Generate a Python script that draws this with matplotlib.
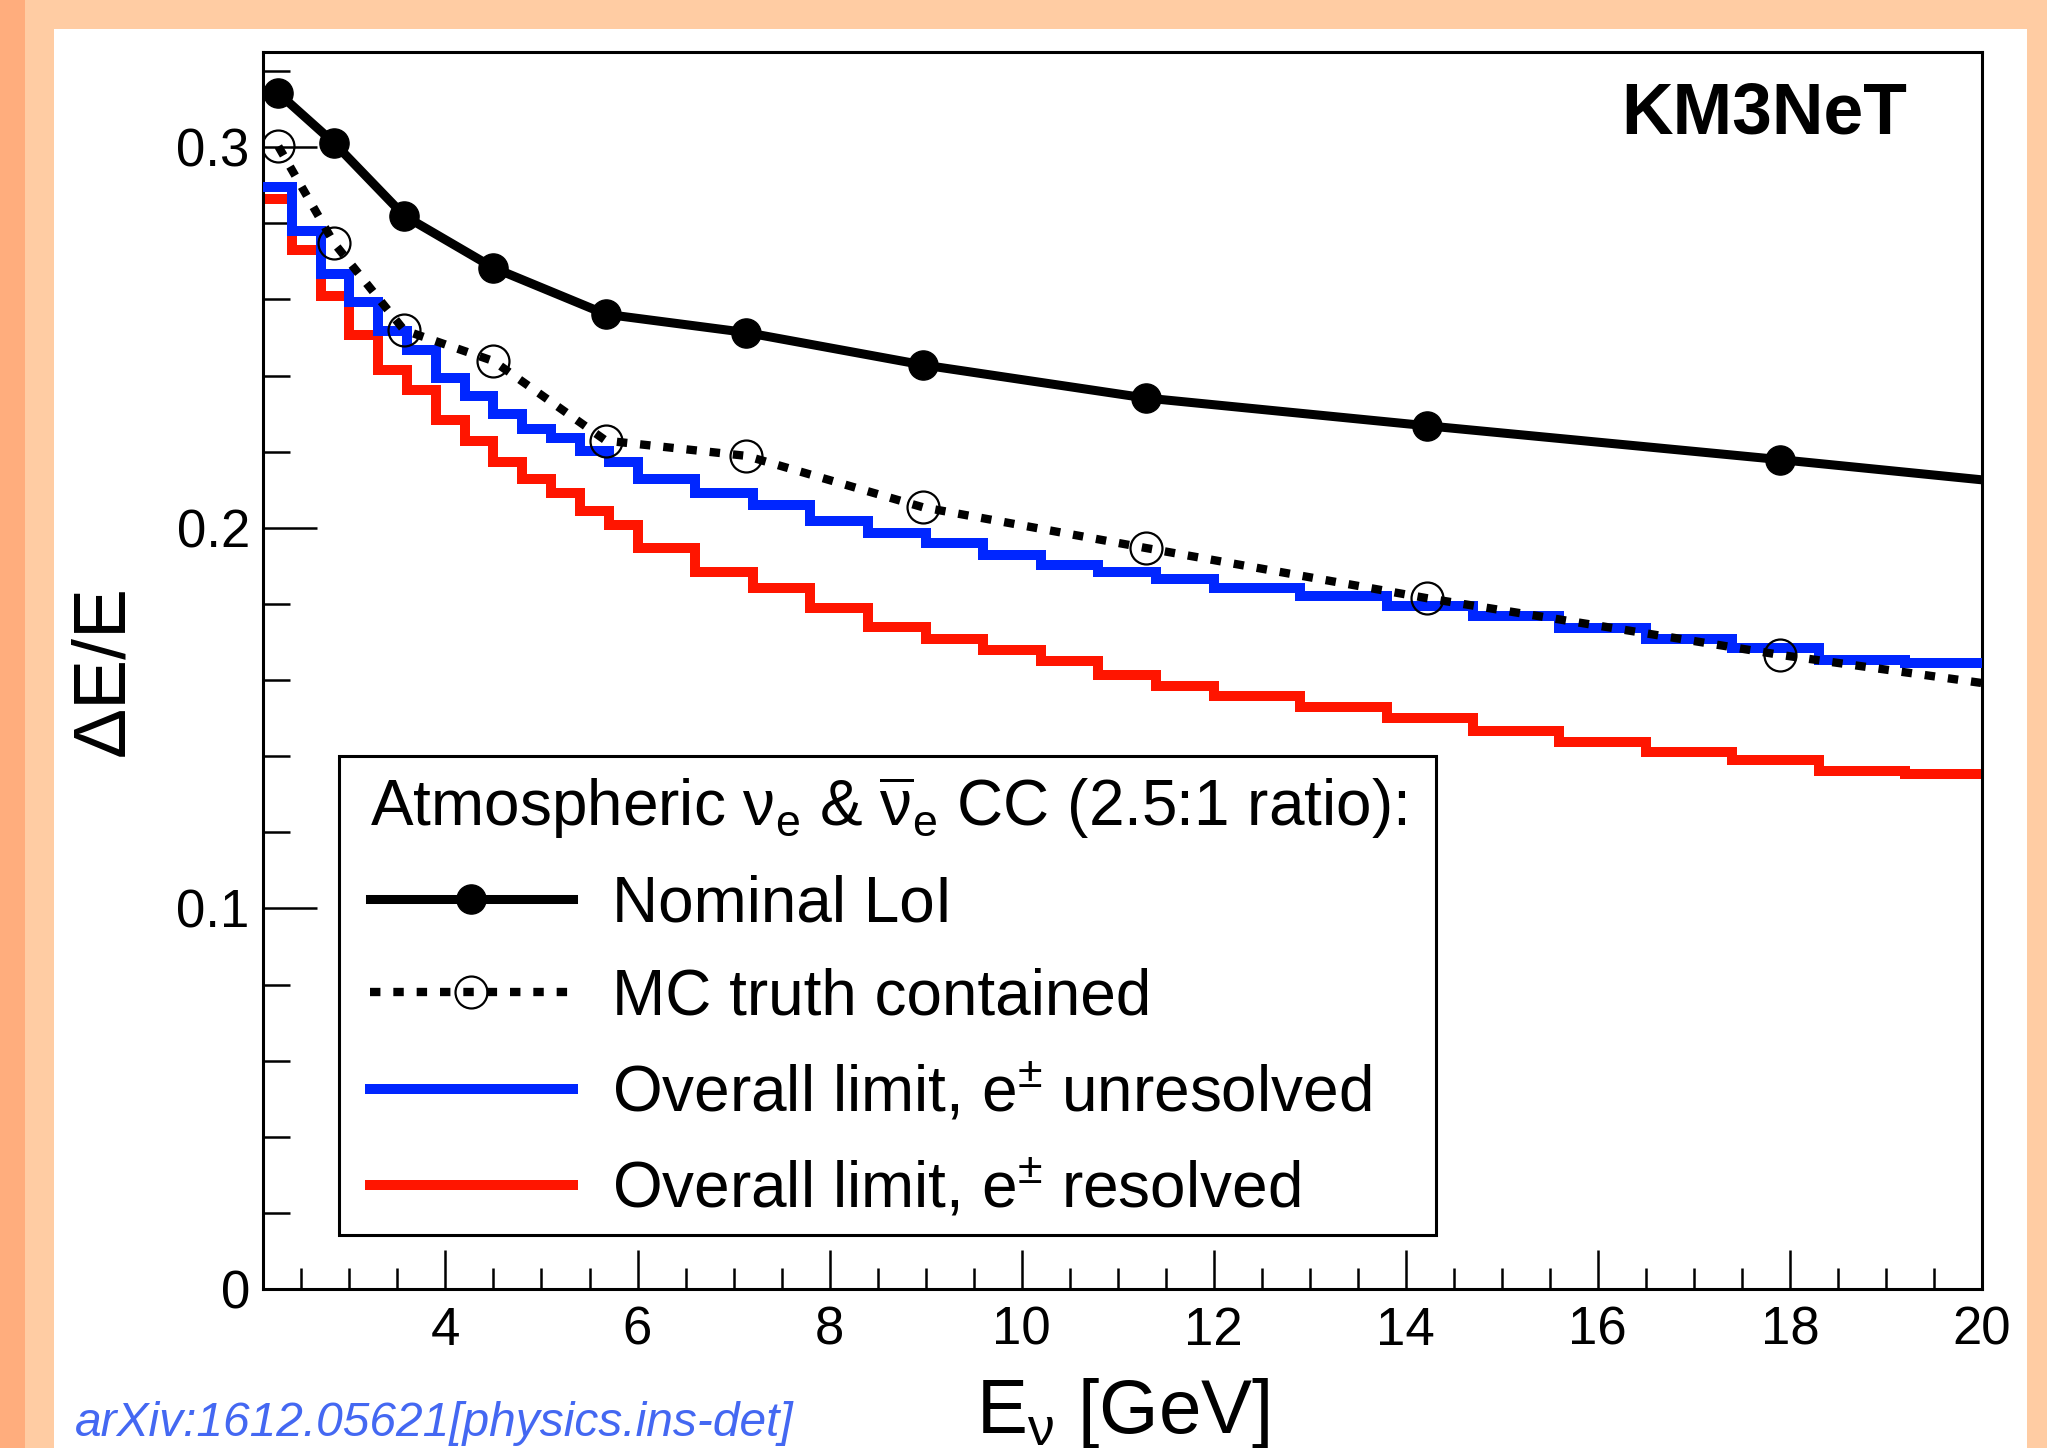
import matplotlib
matplotlib.use("Agg")
import matplotlib.pyplot as plt
from matplotlib.lines import Line2D
from matplotlib.patches import Rectangle
from matplotlib.ticker import MultipleLocator, FixedLocator, FixedFormatter

plt.rcParams['font.family'] = ['Liberation Sans', 'DejaVu Sans']
plt.rcParams['mathtext.fontset'] = 'custom'
plt.rcParams['mathtext.rm'] = 'Liberation Sans'
plt.rcParams['mathtext.it'] = 'Liberation Sans:italic'
plt.rcParams['mathtext.bf'] = 'Liberation Sans:bold'
plt.rcParams['mathtext.sf'] = 'Liberation Sans'

# ---------------- data ----------------
bin_edges = [2.1, 2.4, 2.7, 3.0, 3.3, 3.6, 3.9, 4.2, 4.5, 4.8, 5.1, 5.4, 5.7, 6.0,
             6.6, 7.2, 7.8, 8.4, 9.0, 9.6, 10.2, 10.8, 11.4, 12.0,
             12.9, 13.8, 14.7, 15.6, 16.5, 17.4, 18.3, 19.2, 20.1]
limit_unresolved = [0.2895, 0.2779, 0.2668, 0.2592, 0.2516, 0.2468, 0.2393, 0.2345,
                    0.2299, 0.2259, 0.2236, 0.2201, 0.2173, 0.2128, 0.2091, 0.2060,
                    0.2019, 0.1985, 0.1960, 0.1929, 0.1901, 0.1884, 0.1866, 0.1841,
                    0.1821, 0.1795, 0.1767, 0.1736, 0.1708, 0.1685, 0.1653, 0.1644]
limit_resolved = [0.2864, 0.2729, 0.2608, 0.2507, 0.2415, 0.2363, 0.2282, 0.2227,
                  0.2172, 0.2128, 0.2091, 0.2045, 0.2007, 0.1947, 0.1885, 0.1842,
                  0.1789, 0.1739, 0.1707, 0.1679, 0.1649, 0.1614, 0.1585, 0.1558,
                  0.1530, 0.1500, 0.1467, 0.1436, 0.1410, 0.1390, 0.1362, 0.1353]
energy_points = [2.26, 2.84, 3.57, 4.50, 5.67, 7.13, 8.97, 11.29, 14.22, 17.90, 22.53]
nominal_loi = [0.3142, 0.3011, 0.2820, 0.2683, 0.2561, 0.2513, 0.2428, 0.2341,
               0.2268, 0.2179, 0.2062]
mc_truth = [0.3002, 0.2748, 0.2519, 0.2438, 0.2229, 0.2189, 0.2054, 0.1947,
            0.1815, 0.1666, 0.1503]
x_ticks = [4, 6, 8, 10, 12, 14, 16, 18, 20]
x_tick_labels = ['4', '6', '8', '10', '12', '14', '16', '18', '20']
y_ticks = [0.0, 0.1, 0.2, 0.3]
y_tick_labels = ['0', '0.1', '0.2', '0.3']

legend_title = r'Atmospheric $\mathrm{\nu}_{\mathrm{e}}$ & $\overline{\mathrm{\nu}}_{\mathrm{e}}$ CC (2.5:1 ratio):'
legend_labels = ['Nominal LoI', 'MC truth contained',
                 r'Overall limit, e$^{\pm}$ unresolved',
                 r'Overall limit, e$^{\pm}$ resolved']

# ---------------- figure ----------------
W, H, DPI = 2047, 1448, 100
DARK = '#ffad7d'
PEACH = '#ffcca3'
BLUE = '#0026ff'
RED = '#ff1500'

fig = plt.figure(figsize=(W / DPI, H / DPI), dpi=DPI, facecolor='white')


def px_rect(x0, y0, x1, y1):
    """pixel box (top-left origin) -> figure-fraction (x, y, w, h)"""
    return (x0 / W, 1 - y1 / H), (x1 - x0) / W, (y1 - y0) / H


for (x0, y0, x1, y1), col in [((25, 0, 54, H), PEACH), ((25, 0, W, 29), PEACH),
                              ((2027, 0, W, H), PEACH), ((0, 0, 25, H), DARK)]:
    xy, w, h = px_rect(x0, y0, x1, y1)
    fig.add_artist(Rectangle(xy, w, h, transform=fig.transFigure, facecolor=col,
                             edgecolor='none', zorder=-5))

ax = fig.add_axes([263 / W, 1 - 1289 / H, (1982 - 263) / W, (1289 - 52) / H])

sp_r = ax.stairs(limit_resolved, bin_edges, baseline=None, color=RED,
                 linewidth=7.2, zorder=2)
sp_b = ax.stairs(limit_unresolved, bin_edges, baseline=None, color=BLUE,
                 linewidth=7.2, zorder=3)
for sp in (sp_r, sp_b):
    sp.set_joinstyle('miter')
    sp.set_capstyle('butt')

mc_style = dict(color='black', lw=6.0, ls=(0, (1.25, 1.55)), marker='o', ms=23,
                mfc='none', mec='black', mew=1.6, dash_capstyle='butt')
nom_style = dict(color='black', lw=6.5, marker='o', ms=21, mfc='black',
                 mec='black', mew=1.0)
ax.plot(energy_points, mc_truth, zorder=4, **mc_style)
ax.plot(energy_points, nominal_loi, zorder=5, **nom_style)

ax.set_xlim(2.1, 20)
ax.set_ylim(0, 0.325)
ax.xaxis.set_major_locator(FixedLocator(x_ticks))
ax.xaxis.set_major_formatter(FixedFormatter(x_tick_labels))
ax.xaxis.set_minor_locator(MultipleLocator(0.5))
ax.yaxis.set_major_locator(FixedLocator(y_ticks))
ax.yaxis.set_major_formatter(FixedFormatter(y_tick_labels))
ax.yaxis.set_minor_locator(MultipleLocator(0.02))

for s in ax.spines.values():
    s.set_linewidth(2.2)
ax.tick_params(axis='both', which='both', direction='in', top=False, right=False,
               width=1.8, labelsize=38)
ax.tick_params(axis='y', which='major', length=39, pad=9.5)
ax.tick_params(axis='y', which='minor', length=19.5)
ax.tick_params(axis='x', which='major', length=28, pad=12)
ax.tick_params(axis='x', which='minor', length=15)

ax.set_xlabel(r'E$_{\mathrm{\nu}}$ [GeV]', fontsize=55)
ax.xaxis.set_label_coords(0.5, (1289 - 1376) / (1289 - 52))
ax.set_ylabel('ΔE/E', fontsize=54)
ax.yaxis.set_label_coords((138 - 263) / (1982 - 263), 0.5)

# legend frame (drawn separately for exact placement) + legend content
xy, w, h = px_rect(338.6, 756, 1435.7, 1235)
ax.add_patch(Rectangle(xy, w, h, transform=fig.transFigure, facecolor='white',
                       edgecolor='black', linewidth=2.2, zorder=9, clip_on=False))

handles = [Line2D([], [], **nom_style),
           Line2D([], [], **mc_style),
           Line2D([], [], color=BLUE, lw=7.2),
           Line2D([], [], color=RED, lw=7.2)]
leg = ax.legend(handles, legend_labels, title=legend_title, loc='upper left',
                bbox_to_anchor=(370 / W, 1 - 774 / H),
                bbox_transform=fig.transFigure, borderaxespad=0,
                fontsize=46, title_fontsize=46, alignment='left',
                handlelength=3.17, handletextpad=0.62, labelspacing=0.523,
                borderpad=0, frameon=False, numpoints=1)
leg.set_zorder(10)

fig.text(1907.5 / W, 1 - 134 / H, 'KM3NeT', ha='right', va='baseline',
         fontsize=51.5, fontweight='bold')
fig.text(75 / W, 1 - 1436 / H, 'arXiv:1612.05621[physics.ins-det]',
         ha='left', va='baseline', fontsize=34.5, style='italic', color='#4468f2')

fig.savefig('out.png', dpi=DPI, facecolor='white')
